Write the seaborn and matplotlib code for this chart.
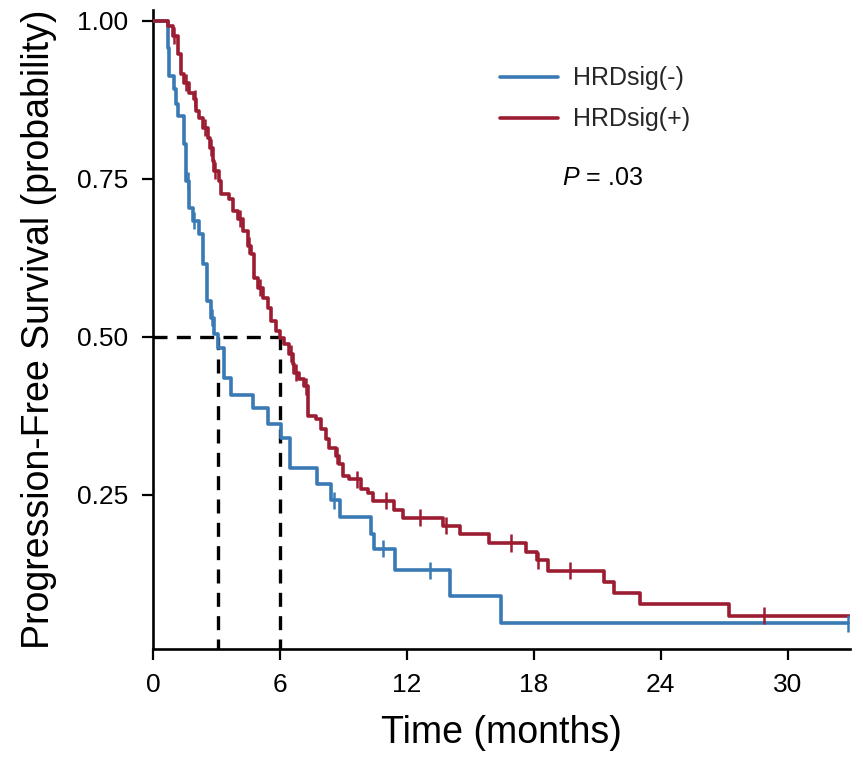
import matplotlib
matplotlib.use("Agg")
import matplotlib.pyplot as plt
import seaborn as sns
import pandas as pd
import numpy as np

# ---------------- data ----------------
group_labels = ["HRDsig(-)", "HRDsig(+)"]

neg_time = [0, 0.71, 0.76, 0.99, 1.09, 1.18, 1.47, 1.56, 1.72, 1.89, 2.18, 2.37, 2.56,
            2.74, 2.89, 3.08, 3.36, 3.69, 4.73, 5.44, 6.06, 6.48, 7.76, 8.42, 8.85,
            10.32, 10.46, 11.45, 14.06, 16.47, 32.84]
neg_surv = [1.0, 0.957, 0.913, 0.892, 0.869, 0.850, 0.805, 0.747, 0.704, 0.684, 0.663,
            0.616, 0.557, 0.530, 0.505, 0.483, 0.435, 0.408, 0.388, 0.362, 0.340, 0.293,
            0.267, 0.242, 0.215, 0.188, 0.165, 0.131, 0.090, 0.047, 0.047]
neg_cens_time = [1.64, 1.94, 2.80, 8.57, 10.88, 13.11, 32.84]
neg_cens_surv = [0.747, 0.684, 0.530, 0.242, 0.165, 0.131, 0.047]

pos_time = [0, 0.71, 0.95, 1.18, 1.33, 1.47, 1.70, 1.94, 2.04, 2.18, 2.37, 2.60, 2.70,
            2.84, 2.89, 3.12, 3.22, 3.60, 3.79, 4.02, 4.26, 4.50, 4.64, 4.78, 4.97, 5.21,
            5.44, 5.58, 5.82, 6.01, 6.20, 6.44, 6.63, 6.67, 6.91, 7.15, 7.34, 7.71, 7.95,
            8.19, 8.33, 8.66, 8.80, 8.99, 9.28, 9.84, 10.18, 10.41, 11.41, 11.83, 13.72,
            14.53, 15.90, 17.65, 18.13, 18.65, 21.34, 21.77, 23.00, 27.21, 33.03]
pos_surv = [1.0, 0.992, 0.976, 0.948, 0.916, 0.902, 0.886, 0.877, 0.858, 0.847, 0.831,
            0.815, 0.799, 0.778, 0.763, 0.747, 0.726, 0.718, 0.699, 0.687, 0.668, 0.644,
            0.631, 0.593, 0.578, 0.562, 0.546, 0.525, 0.509, 0.498, 0.489, 0.473, 0.457,
            0.443, 0.434, 0.422, 0.375, 0.370, 0.354, 0.339, 0.324, 0.312, 0.299, 0.280,
            0.275, 0.259, 0.253, 0.241, 0.226, 0.214, 0.201, 0.188, 0.174, 0.160, 0.147,
            0.130, 0.112, 0.095, 0.078, 0.059, 0.059]
pos_cens_time = [1.00, 1.55, 1.97, 2.45, 2.75, 2.95, 4.10, 4.55, 5.05, 6.50, 6.75, 7.24,
                 8.72, 9.65, 11.03, 12.64, 13.87, 16.90, 18.22, 19.73, 28.88]
pos_cens_surv = [0.976, 0.902, 0.877, 0.831, 0.799, 0.763, 0.687, 0.644, 0.578, 0.473,
                 0.443, 0.422, 0.312, 0.275, 0.241, 0.214, 0.201, 0.174, 0.147, 0.130, 0.059]

median_times = [3.05, 6.0]
median_level = 0.5
p_text = ".03"

x_ticks = [0, 6, 12, 18, 24, 30]
y_ticks = [0.25, 0.50, 0.75, 1.00]
y_ticklabels = ["0.25", "0.50", "0.75", "1.00"]

colors = {"HRDsig(-)": "#3a7ab4", "HRDsig(+)": "#9c1c32"}

# ---------------- frames ----------------
curve_df = pd.concat([
    pd.DataFrame({"time": neg_time, "surv": neg_surv, "group": group_labels[0]}),
    pd.DataFrame({"time": pos_time, "surv": pos_surv, "group": group_labels[1]}),
], ignore_index=True)
cens_df = pd.concat([
    pd.DataFrame({"time": neg_cens_time, "surv": neg_cens_surv, "group": group_labels[0]}),
    pd.DataFrame({"time": pos_cens_time, "surv": pos_cens_surv, "group": group_labels[1]}),
], ignore_index=True)

# ---------------- style ----------------
sns.set_theme(style="ticks")
plt.rcParams["font.family"] = ["Liberation Sans", "DejaVu Sans"]
plt.rcParams["mathtext.fontset"] = "custom"
plt.rcParams["mathtext.it"] = "Liberation Sans:italic"
plt.rcParams["mathtext.rm"] = "Liberation Sans"

fig = plt.figure(figsize=(8.63, 7.65), dpi=100)
ax = fig.add_axes([0.1773, 0.1516, 0.8077, 0.8353])

# median dashed guides
ax.plot([0, median_times[1]], [median_level, median_level], color="black",
        linewidth=2.4, dashes=(4.2, 2.8), zorder=1)
for mt in median_times:
    ax.plot([mt, mt], [0, median_level], color="black", linewidth=2.4,
            dashes=(4.2, 2.8), zorder=1)

sns.lineplot(data=curve_df, x="time", y="surv", hue="group", palette=colors,
             hue_order=group_labels, drawstyle="steps-post", estimator=None,
             sort=False, linewidth=2.6, ax=ax, zorder=3)
sns.scatterplot(data=cens_df, x="time", y="surv", hue="group", palette=colors,
                hue_order=group_labels, marker="|", s=150, linewidth=1.8,
                legend=False, ax=ax, zorder=4)

ax.set_xlim(0, 32.95)
ax.set_ylim(0.0063, 1.017)
ax.set_xticks(x_ticks)
ax.set_xticklabels([str(v) for v in x_ticks])
ax.set_yticks(y_ticks)
ax.set_yticklabels(y_ticklabels)
sns.despine(ax=ax)
for sp in ["left", "bottom"]:
    ax.spines[sp].set_linewidth(1.9)
    ax.spines[sp].set_color("black")
ax.tick_params(axis="both", length=8, width=1.6, color="black", labelsize=19,
               labelcolor="black")
ax.tick_params(axis="y", pad=10)
ax.tick_params(axis="x", pad=9)

ax.set_xlabel("Time (months)", fontsize=27, labelpad=13, color="black")
ax.set_ylabel("Progression-Free Survival (probability)", fontsize=27,
              labelpad=14, color="black")

handles, labels = ax.get_legend_handles_labels()
leg = ax.legend(handles, labels, loc="upper left", bbox_to_anchor=(0.498, 0.912),
                frameon=False, fontsize=18, handlelength=2.3, handletextpad=0.6,
                labelspacing=0.68, borderpad=0, borderaxespad=0)
for h in leg.get_lines():
    h.set_linewidth(2.6)

ax.text(0.587, 0.737, "$P$ = " + p_text, transform=ax.transAxes, fontsize=18,
        va="center", ha="left", color="black")

fig.savefig("out.png", dpi=100)
